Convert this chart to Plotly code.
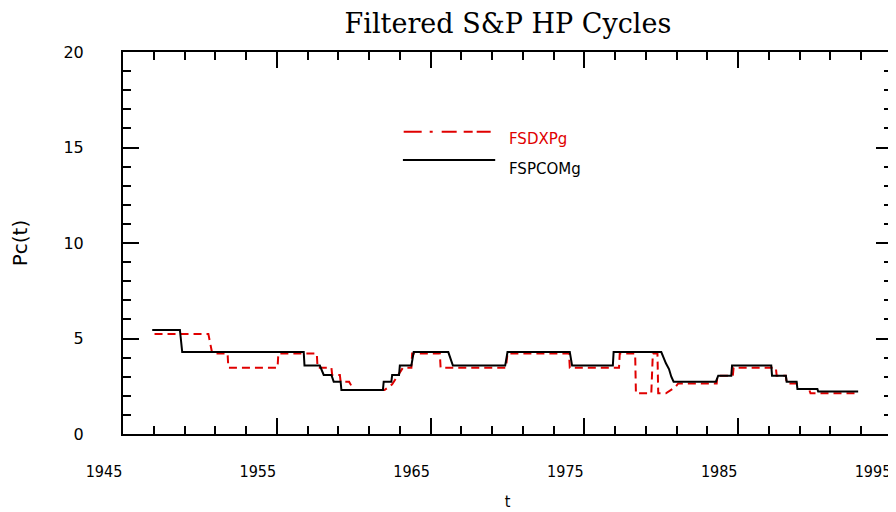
import plotly.graph_objects as go

# FSPCOMg (solid black) - breakpoints
t_spcom = [1946.9, 1948.7, 1948.85, 1956.75, 1956.8, 1957.8, 1958.05, 1958.55, 1958.7,
           1959.15, 1959.2, 1961.9, 1961.95, 1962.45, 1962.5, 1962.95, 1963.0, 1963.75,
           1963.9, 1966.15, 1966.45, 1969.85, 1970.0, 1974.05, 1974.2, 1976.85, 1976.9,
           1980.0, 1980.3, 1980.5, 1980.65, 1980.8, 1983.55, 1983.7, 1984.55, 1984.6,
           1987.15, 1987.2, 1988.1, 1988.15, 1988.8, 1988.85, 1990.15, 1990.2, 1992.8]
v_spcom = [5.45, 5.45, 4.29, 4.29, 3.58, 3.58, 3.09, 3.09, 2.74,
           2.74, 2.30, 2.30, 2.74, 2.74, 3.09, 3.09, 3.58, 3.58,
           4.29, 4.29, 3.58, 3.58, 4.29, 4.29, 3.58, 3.58, 4.29,
           4.29, 3.70, 3.40, 3.00, 2.74, 2.74, 3.05, 3.05, 3.58,
           3.58, 3.05, 3.05, 2.74, 2.74, 2.36, 2.36, 2.22, 2.22]

# FSDXPg (red dashed)
t_sdxp = [1947.05, 1950.55, 1950.8, 1951.8, 1951.85, 1955.05, 1955.1, 1957.6, 1957.65,
          1958.55, 1958.6, 1959.1, 1959.15, 1959.7, 1960.0, 1962.0, 1962.5, 1963.2,
          1963.75, 1963.8, 1965.6, 1965.65, 1969.9, 1970.0, 1974.0, 1974.05, 1977.25,
          1977.3, 1978.3, 1978.35, 1979.35, 1979.45, 1979.75, 1979.8, 1980.3, 1980.9,
          1981.1, 1983.6, 1983.65, 1984.65, 1984.7, 1987.45, 1987.5, 1988.1, 1988.15,
          1988.8, 1988.85, 1989.6, 1989.7, 1992.75]
v_sdxp = [5.24, 5.24, 4.22, 4.22, 3.47, 3.47, 4.22, 4.22, 3.47,
          3.47, 3.09, 3.09, 2.74, 2.74, 2.30, 2.30, 2.60, 3.47,
          3.47, 4.22, 4.22, 3.47, 3.47, 4.22, 4.22, 3.47, 3.47,
          4.22, 4.22, 2.13, 2.13, 4.22, 4.22, 2.13, 2.13, 2.45,
          2.65, 2.65, 3.05, 3.05, 3.47, 3.47, 3.05, 3.05, 2.65,
          2.65, 2.36, 2.36, 2.13, 2.13]

RED = "#e00000"
DASH = "8px,5px"
NARROW = "DejaVu Sans Condensed, Liberation Sans Narrow, Liberation Sans, sans-serif"

fig = go.Figure()
fig.add_trace(go.Scatter(x=t_sdxp, y=v_sdxp, mode="lines", name="FSDXPg",
                         line=dict(color=RED, width=2, dash=DASH), showlegend=False))
fig.add_trace(go.Scatter(x=t_spcom, y=v_spcom, mode="lines", name="FSPCOMg",
                         line=dict(color="black", width=2), showlegend=False))

# hand-drawn legend (long line samples, coloured labels)
fig.add_shape(type="line", xref="paper", yref="paper", x0=0.365, x1=0.484, y0=0.791, y1=0.791,
              line=dict(color=RED, width=2, dash="18px,8px,3px,9px,15px,7px,9px,4px,14px,20px"))
fig.add_shape(type="line", xref="paper", yref="paper", x0=0.364, x1=0.484, y0=0.717, y1=0.717,
              line=dict(color="black", width=2))
fig.add_annotation(xref="paper", yref="paper", x=0.499, y=0.772, text="FSDXPg", showarrow=False,
                   xanchor="left", yanchor="middle", font=dict(family="DejaVu Sans", size=15, color=RED))
fig.add_annotation(xref="paper", yref="paper", x=0.499, y=0.694, text="FSPCOMg", showarrow=False,
                   xanchor="left", yanchor="middle", font=dict(family="DejaVu Sans", size=15, color="black"))

# page body has an 8px margin, so the figure is a bit smaller than the window
fig.update_layout(
    width=888, height=504,
    margin=dict(l=115, r=4, t=44, b=78, autoexpand=False),
    paper_bgcolor="white", plot_bgcolor="white",
    title=dict(text="Filtered S&P HP Cycles", x=0.563, xanchor="center", y=0.970, yanchor="middle",
               yref="container", font=dict(family="DejaVu Serif", size=27, color="black")),
)
fig.update_xaxes(range=[1945, 1995], tickvals=[1945, 1955, 1965, 1975, 1985, 1995],
                 ticks="inside", ticklen=16, tickwidth=2, tickcolor="black",
                 minor=dict(dtick=2, tick0=1945, ticks="inside", ticklen=8, tickwidth=2, tickcolor="black"),
                 showline=True, linewidth=2, linecolor="black", mirror="ticks",
                 showgrid=False, zeroline=False, automargin=False,
                 ticklabelshift=-19, ticklabelstandoff=22,
                 tickfont=dict(family=NARROW, size=16, color="black"),
                 title=dict(text="t", standoff=16, font=dict(family=NARROW, size=16, color="black")))
fig.update_yaxes(range=[0, 20], tickvals=[0, 5, 10, 15, 20],
                 ticks="inside", ticklen=16, tickwidth=2, tickcolor="black",
                 minor=dict(dtick=1, ticks="inside", ticklen=8, tickwidth=2, tickcolor="black"),
                 showline=True, linewidth=2, linecolor="black", mirror="ticks",
                 showgrid=False, zeroline=False, automargin=False,
                 ticklabelstandoff=34,
                 tickfont=dict(family="DejaVu Sans", size=16, color="black"),
                 title=dict(text="Pc(t)", standoff=36, font=dict(family="DejaVu Sans", size=20, color="black")))

fig.write_html("out.html")
